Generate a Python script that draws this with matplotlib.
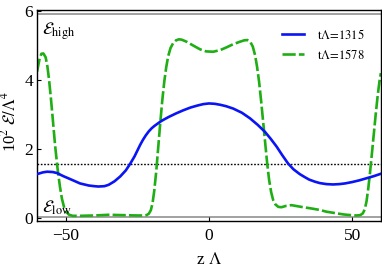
import numpy as np
import matplotlib
matplotlib.use("Agg")
import matplotlib.pyplot as plt

plt.rcParams['font.family'] = ['Liberation Serif', 'DejaVu Serif']
plt.rcParams['mathtext.fontset'] = 'stix'

# ---------------- data ----------------
# energy density profile at t*Lambda = 1315 (blue, solid)
z_1315 = [-60, -58, -56.5, -54.5, -53, -50.8, -48, -45, -42, -40, -38.6, -36.5, -35, -33, -31,
          -29, -27.5, -26, -25, -24, -23, -22, -21, -20, -19, -18, -17, -16, -14,
          -11.5, -9, -6.5, -4, -2, 0, 2, 4, 6, 8.5, 11.5, 14.3, 17,
          19.5, 21.5, 23.6, 25.5, 27.6, 29.5, 31.7, 33.5, 35, 37, 38.7, 41, 43.3, 45.5,
          47.5, 50, 52.5, 55, 57.5, 60]
e_1315 = [1.27, 1.32, 1.34, 1.33, 1.30, 1.21, 1.11, 1.00, 0.94, 0.92, 0.91, 0.92, 0.96, 1.06, 1.20,
          1.38, 1.57, 1.78, 1.95, 2.12, 2.27, 2.40, 2.51, 2.60, 2.67, 2.73, 2.79, 2.84, 2.93,
          3.03, 3.12, 3.20, 3.26, 3.30, 3.32, 3.31, 3.28, 3.24, 3.17, 3.05, 2.89, 2.70,
          2.50, 2.30, 2.07, 1.83, 1.58, 1.41, 1.27, 1.18, 1.11, 1.05, 1.01, 0.98, 0.97, 0.98,
          1.00, 1.04, 1.09, 1.15, 1.21, 1.28]

# energy density profile at t*Lambda = 1578 (green, dashed)
z_1578 = [-60, -59.2, -58.5, -57.8, -57, -56.4, -55.8, -55.2, -54.6, -53.7, -52.8, -52, -51.3,
          -50.6, -49.8, -48.8, -47.5, -45, -40, -35, -30, -25, -22.8, -21.8, -21, -20.3, -19.7,
          -19.1, -18.4, -17.7, -17, -16.3, -15.6, -14.9, -14.2, -13.4, -12.5, -11.5, -10.5,
          -9.5, -7.8, -5.5, -3.1, -1, 1.5, 4, 6.2, 8.5, 10.8, 12.3, 13.4, 14.4, 15.3, 16.1,
          16.8, 17.5, 18.2, 18.9, 19.6, 20.3, 21, 21.7, 22.4, 23.2, 24.2, 25.3, 27, 28.8, 30.8,
          32.9, 36, 38.7, 41, 44, 47, 49.5, 51.5, 52.8, 53.7, 54.4, 55, 55.6, 56.2, 56.8,
          57.5, 58.2, 58.9, 59.5, 60]
e_1578 = [4.24, 4.58, 4.76, 4.77, 4.66, 4.40, 4.00, 3.50, 2.95, 2.10, 1.40, 0.90, 0.55,
          0.32, 0.17, 0.09, 0.06, 0.06, 0.07, 0.09, 0.08, 0.07, 0.07, 0.08, 0.12, 0.22, 0.42,
          0.78, 1.35, 2.05, 2.75, 3.40, 3.95, 4.38, 4.70, 4.93, 5.07, 5.15, 5.18,
          5.17, 5.11, 5.00, 4.89, 4.83, 4.82, 4.87, 4.95, 5.04, 5.11, 5.15, 5.16, 5.11, 4.97, 4.72,
          4.38, 3.95, 3.40, 2.80, 2.20, 1.60, 1.10, 0.75, 0.52, 0.39, 0.32, 0.31, 0.35, 0.37, 0.34,
          0.31, 0.27, 0.23, 0.18, 0.14, 0.10, 0.08, 0.07, 0.08, 0.13, 0.25, 0.48, 0.85, 1.30, 1.80,
          2.40, 3.00, 3.55, 3.95, 4.20]

e_high = 5.91      # upper reference level
e_low = 0.02       # lower reference level
e_dotted = 1.57    # dotted threshold line

x_ticks = [-50, 0, 50]
y_ticks = [0, 2, 4, 6]

# ---------------- plotting ----------------
fig = plt.figure(figsize=(3.82, 2.71), dpi=100)
ax = fig.add_axes([0.097, 0.1845, 0.9, 0.7785])

ax.axhline(e_high, color='#9a9a9a', lw=1.3, zorder=1)
ax.axhline(e_low, color='#9a9a9a', lw=1.3, zorder=1)
ax.axhline(e_dotted, color='black', lw=1.0, ls=(0, (1.2, 1.2)), zorder=1)

ax.plot(z_1315, e_1315, color='#0a14f5', lw=1.9, label=r'$\mathrm{t\Lambda\!=\!1315}$', zorder=3)
ax.plot(z_1578, e_1578, color='#1fae14', lw=1.9, dashes=(5, 1.2),
        label=r'$\mathrm{t\Lambda\!=\!1578}$', zorder=2)

ax.text(-58.3, 5.42, r'$\mathcal{E}_{\mathrm{high}}$', fontsize=12.5, va='center', ha='left')
ax.text(-58.3, 0.28, r'$\mathcal{E}_{\mathrm{low}}$', fontsize=12.5, va='center', ha='left')

ax.set_xlim(-60, 60)
ax.set_ylim(-0.09, 6.03)
ax.set_xticks(x_ticks)
ax.set_yticks(y_ticks)
ax.set_xticklabels(['\u221250', '0', '50'])
ax.tick_params(direction='in', length=3, width=0.8, labelsize=12.5, pad=3)
ax.tick_params(axis='x', pad=5)

ax.set_xlabel(r'z $\Lambda$', fontsize=12.5, labelpad=6)
ax.set_ylabel(r'10$^2$ $\mathcal{E}/\Lambda^4$', fontsize=12)
ax.yaxis.set_label_coords(-0.05, 0.47)

for s in ax.spines.values():
    s.set_linewidth(1.0)

leg = ax.legend(loc='upper right', frameon=False, fontsize=9, handlelength=1.8,
                handletextpad=1.0, labelspacing=0.5, borderaxespad=0.5,
                bbox_to_anchor=(0.985, 0.97))

fig.savefig('out.png', dpi=100)
